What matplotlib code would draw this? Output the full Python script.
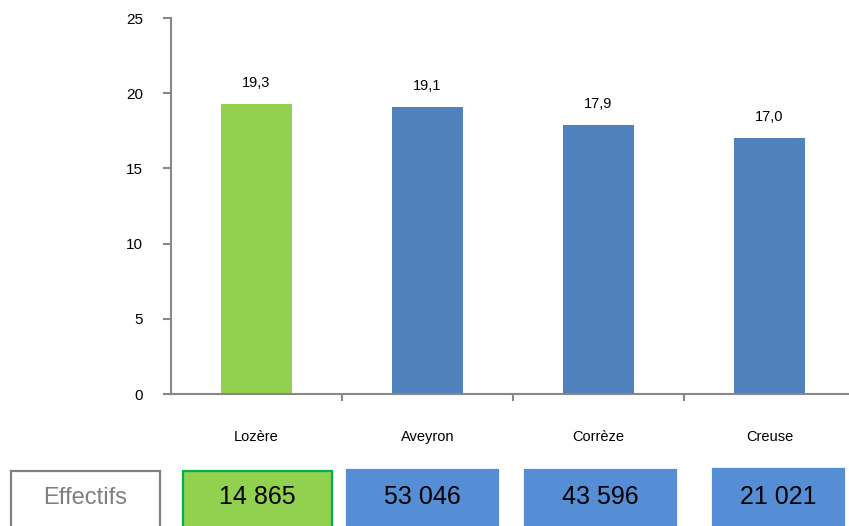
import matplotlib
matplotlib.use("Agg")
import matplotlib.pyplot as plt
from matplotlib.patches import Rectangle

# data
departements = ["Lozère", "Aveyron", "Corrèze", "Creuse"]
valeurs = [19.3, 19.1, 17.9, 17.0]
effectifs = ["14 865", "53 046", "43 596", "21 021"]
bar_colors = ["#92D050", "#4F81BD", "#4F81BD", "#4F81BD"]
box_colors = ["#92D050", "#558ED5", "#558ED5", "#558ED5"]
box_edges = ["#00B050", "#558ED5", "#558ED5", "#558ED5"]

plt.rcParams['font.family'] = ['Liberation Sans', 'DejaVu Sans']

W, H = 849, 526
fig = plt.figure(figsize=(W / 100, H / 100), dpi=100)
ax = fig.add_axes([171 / W, 1 - 394 / H, (855 - 171) / W, (394 - 18) / H])

x = range(len(departements))
ax.bar(x, valeurs, width=0.42, color=bar_colors)
for i, v in enumerate(valeurs):
    ax.annotate(f"{v:.1f}".replace(".", ","), (i, v), xytext=(0, 10),
                textcoords="offset points", ha="center", va="bottom",
                fontsize=10.5, color="black")

ax.set_xlim(-0.5, 3.5)
ax.set_ylim(0, 25)
ax.set_yticks([0, 5, 10, 15, 20, 25])
ax.set_xticks([0.5, 1.5, 2.5])
ax.set_xticklabels([])
ax.set_xticks(list(x), minor=True)
ax.set_xticklabels(departements, minor=True)
ax.tick_params(axis="x", which="major", length=5, width=1.5, color="#878787", direction="out")
ax.tick_params(axis="x", which="minor", length=0, pad=34, labelsize=10.5)
for lab in ax.get_xticklabels(minor=True):
    lab.set_verticalalignment("baseline")
ax.tick_params(axis="y", length=6, width=1.5, color="#878787", pad=14, labelsize=11)
for s in ["top", "right"]:
    ax.spines[s].set_visible(False)
for s in ["left", "bottom"]:
    ax.spines[s].set_color("#878787")
    ax.spines[s].set_linewidth(1.5)

# boxes under the chart
def px_box(x0, x1, y0, face, edge, lw):
    r = Rectangle((x0 / W, 1 - 530 / H), (x1 - x0) / W, (530 - y0) / H,
                  transform=fig.transFigure, facecolor=face, edgecolor=edge,
                  linewidth=lw, clip_on=False)
    fig.add_artist(r)

px_box(11, 160, 471, "white", "#808080", 1.6)
fig.text((11 + 160) / 2 / W, 1 - 498 / H, "Effectifs", ha="center", va="center",
         fontsize=17, color="#7F7F7F")

box_x = [(183, 332, 471), (347, 498, 470), (525, 676, 470), (713, 844, 469)]
for (x0, x1, y0), lab, fc, ec in zip(box_x, effectifs, box_colors, box_edges):
    px_box(x0, x1, y0, fc, ec, 1.6)
    fig.text((x0 + x1) / 2 / W, 1 - 497 / H, lab, ha="center", va="center",
             fontsize=18, color="black")

fig.savefig("out.png", dpi=100)
